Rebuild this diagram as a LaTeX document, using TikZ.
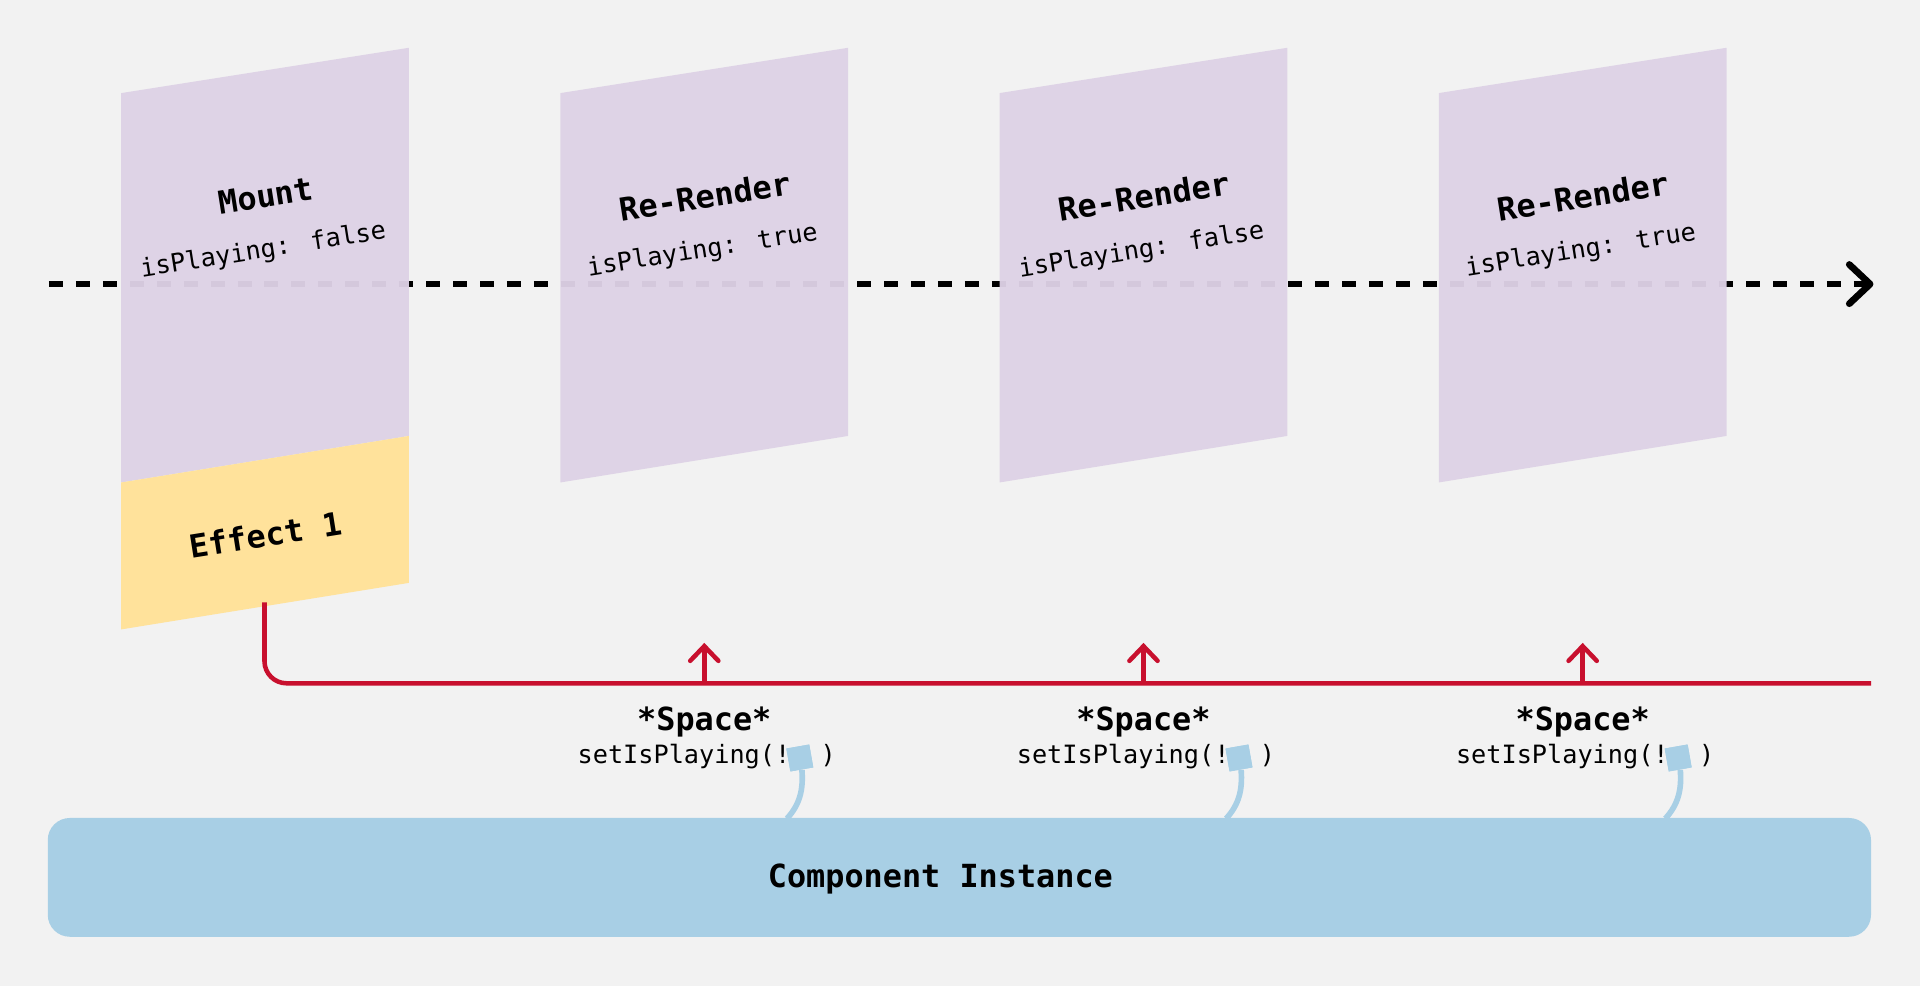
\documentclass[tikz,border=0pt]{standalone}
\usepackage{fontspec}
\newfontfamily\monofont{DejaVu Sans Mono}
\usetikzlibrary{arrows.meta}
\definecolor{bgcol}{HTML}{F2F2F2}
\definecolor{panelcol}{HTML}{DED2E6}
\definecolor{effectcol}{HTML}{FFE29B}
\definecolor{bluecol}{HTML}{A8CFE5}
\definecolor{redcol}{HTML}{C8102E}
\tikzset{
  timeline/.style={line width=2.75pt, dash pattern=on 5.7pt off 5.3pt, black,
    -{Straight Barb[length=8.5pt,width=16pt,line cap=round,line join=round]}},
  panel/.style={fill=panelcol, fill opacity=0.955},
  effectbox/.style={fill=effectcol},
  titletext/.style={font=\monofont\bfseries\fontsize{13pt}{15pt}\selectfont, inner sep=0pt, text=black},
  codetext/.style={font=\monofont\fontsize{10.3pt}{12pt}\selectfont, inner sep=0pt, text=black},
  redline/.style={draw=redcol, line width=1.85pt},
  redarrow/.style={redline, -{Straight Barb[length=6pt,width=11.5pt,line cap=round]}},
  cibox/.style={fill=bluecol, rounded corners=9pt, minimum width=744.5pt, minimum height=48.5pt, inner sep=0pt},
  plug/.style={fill=bluecol, minimum size=9.5pt, inner sep=0pt},
  cable/.style={draw=bluecol, line width=2.3pt},
}
\begin{document}
\begin{tikzpicture}[x=0.5pt,y=0.5pt]
\fill[bgcol] (0,0) rectangle (1568,-805.2);
\useasboundingbox (0,0) rectangle (1568,-805.2);

% timeline
\coordinate (tlstart) at (40,-232);
\coordinate (tlend) at (1530,-232);
\draw[timeline] (tlstart) -- (tlend);

% panels
\foreach \i/\t/\v in {0/Mount/false,1/Re-Render/true,2/Re-Render/false,3/Re-Render/true}{
  \pgfmathsetmacro{\xl}{99+358.67*\i}
  \pgfmathsetmacro{\xc}{\xl+117.5}
  \fill[panel] (\xl,-76) -- ++(235,37) -- ++(0,-317) -- ++(-235,-38) -- cycle;
  \node[titletext, rotate=9] (ttl\i) at (\xc+0.5,-160) {\t};
  \node[codetext, rotate=9] (st\i) at (\xc-1.5,-205) {isPlaying: \v};
}

% effect
\fill[effectbox] (99,-394) -- (334,-356) -- (334,-476) -- (99,-514) -- cycle;
\node[titletext, rotate=9] (eff) at (217,-437) {Effect 1};

% red line
\coordinate (effB) at (216,-492);
\coordinate (redEnd) at (1528,-558);
\draw[redline, rounded corners=9pt] (effB) |- (redEnd);

% component instance
\node[cibox] (ci) at (783.5,-716.5) {};
\node[titletext] (cit) at (768,-718) {Component Instance};

\foreach \i in {1,2,3}{
  \pgfmathsetmacro{\xc}{216.5+358.67*\i}
  \coordinate (ab\i) at (\xc,-558);
  \coordinate (at\i) at (\xc,-525);
  \draw[redarrow] (ab\i) -- (at\i);
  \node[titletext] (sp\i) at (\xc,-590) {*Space*};
  \node[codetext] (set\i) at (\xc+2,-618) {setIsPlaying(!\ \ )};
  \coordinate (cb\i) at (\xc+67.5,-668.5);
  \node[plug, rotate=10] (plug\i) at (\xc+78,-619) {};
  \draw[cable] (cb\i) .. controls (\xc+78,-657) and (\xc+81,-645) .. (plug\i.south);
  \node[plug, rotate=10] at (plug\i) {};
}
\end{tikzpicture}
\end{document}
